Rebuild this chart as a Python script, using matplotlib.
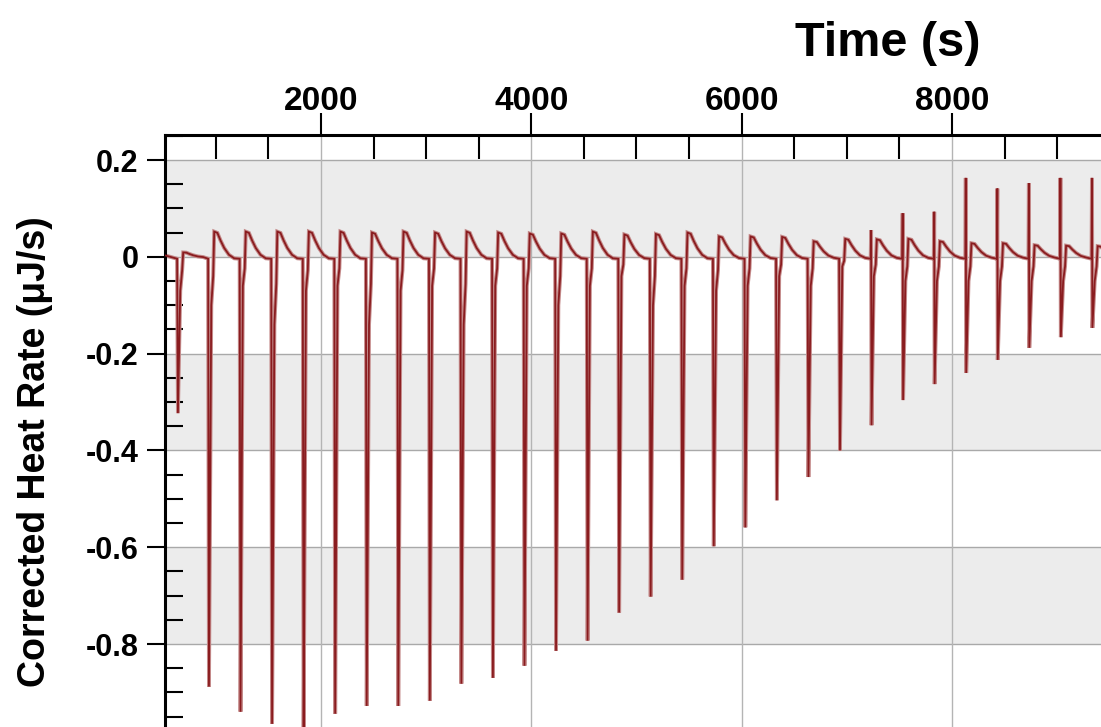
import numpy as np
import matplotlib
matplotlib.use("Agg")
import matplotlib.pyplot as plt
from matplotlib.ticker import MultipleLocator

# injection times (s)
inj_t = [640, 935, 1235, 1535, 1835, 2135, 2435, 2735, 3035, 3335,
         3635, 3935, 4235, 4535, 4835, 5135, 5435, 5735, 6035, 6335,
         6635, 6935, 7235, 7535, 7835, 8135, 8435, 8735, 9035, 9335]
# deepest point of each injection peak (uJ/s)
inj_min = [-0.323, -0.888, -0.940, -0.965, -0.995, -0.944, -0.928, -0.928, -0.917, -0.882,
           -0.870, -0.845, -0.814, -0.793, -0.735, -0.702, -0.667, -0.598, -0.559, -0.503,
           -0.455, -0.400, -0.348, -0.296, -0.263, -0.240, -0.213, -0.188, -0.166, -0.147]
# level the return stroke reaches before the overshoot bump
inj_ret = [-0.07, -0.10, -0.06, -0.14, -0.07, -0.06, -0.14, -0.07, -0.06, -0.14,
           -0.06, -0.06, -0.10, -0.06, -0.04, -0.10, -0.06, -0.07, -0.06, -0.04,
           -0.06, -0.02, -0.04, -0.05, -0.05, -0.05, -0.05, -0.05, -0.05, -0.05]
# height of the positive bump after each peak
inj_bump = [0.009, 0.052, 0.052, 0.052, 0.052, 0.052, 0.050, 0.052, 0.050, 0.052,
            0.050, 0.048, 0.048, 0.052, 0.046, 0.047, 0.050, 0.042, 0.042, 0.041,
            0.032, 0.037, 0.036, 0.037, 0.032, 0.028, 0.028, 0.024, 0.023, 0.022]
# short positive spike at the start of the late injections
inj_spike = [0, 0, 0, 0, 0, 0, 0, 0, 0, 0,
             0, 0, 0, 0, 0, 0, 0, 0, 0, 0,
             0, 0, 0.055, 0.090, 0.093, 0.163, 0.141, 0.152, 0.163, 0.163]

# shape of the bump after a peak: (seconds after injection, fraction of bump height)
bump_dt = [50, 80, 110, 145, 190, 240]
bump_frac = [1.0, 0.95, 0.65, 0.35, 0.08, -0.06]
baseline = -0.004

xticks = [2000, 4000, 6000, 8000]
xtick_labels = ["2000", "4000", "6000", "8000"]
yticks = [0.2, 0, -0.2, -0.4, -0.6, -0.8]
ytick_labels = ["0.2", "0", "-0.2", "-0.4", "-0.6", "-0.8"]
gray_bands = [(0, 0.2), (-0.4, -0.2), (-0.8, -0.6), (-1.2, -1.0)]

# trace through the points of every injection
t_pts, v_pts = [517], [0.003]
for t0, d, r, b, s in zip(inj_t, inj_min, inj_ret, inj_bump, inj_spike):
    t_pts.append(t0 - 8); v_pts.append(baseline)
    if s > 0:
        t_pts.append(t0 - 4); v_pts.append(s)
    t_pts += [t0, t0 + 22, t0 + 40]
    v_pts += [d, r, r * 0.4]
    for dt, f in zip(bump_dt, bump_frac):
        t_pts.append(t0 + dt); v_pts.append(b * f)
t_pts.append(9800); v_pts.append(baseline)

plt.rcParams["font.family"] = ["Liberation Sans", "DejaVu Sans"]
plt.rcParams["axes.unicode_minus"] = False

W, H = 1101, 727
fig = plt.figure(figsize=(W / 100, H / 100), dpi=100)
fig.patch.set_facecolor("white")

# axes placement from pixel anchors in the reference
px_s, px_u = 0.10517, 484.0
x_left, x_right = 517, 9700
y_top, y_bot = 0.2 + 25 / px_u, -1.1
ax_h = (y_top - y_bot) * px_u / H
ax = fig.add_axes([165 / W, 1 - 135 / H - ax_h, (x_right - x_left) * px_s / W, ax_h])
ax.set_xlim(x_left, x_right)
ax.set_ylim(y_bot, y_top)

for lo, hi in gray_bands:
    ax.axhspan(lo, hi, color="#ececec", zorder=0, lw=0)
for y in yticks:
    ax.axhline(y, color="#a9a9a9", lw=1.0, zorder=1)
for x in xticks:
    ax.axvline(x, color="#b4b4b4", lw=1.0, zorder=1)

ax.plot(t_pts, v_pts, color="#c48a8a", lw=2.8, zorder=2, solid_joinstyle="miter")
ax.plot(t_pts, v_pts, color="#8a1c1f", lw=1.3, zorder=3, solid_joinstyle="miter")

ax.xaxis.tick_top()
ax.set_xticks(xticks)
ax.set_xticklabels(xtick_labels, fontweight="bold", fontsize=24)
ax.xaxis.set_minor_locator(MultipleLocator(500))
ax.tick_params(axis="x", which="major", direction="out", length=16, width=1.5,
               pad=-3, top=True, bottom=False)
ax.tick_params(axis="x", which="minor", direction="in", length=17, width=1.5,
               top=True, bottom=False)

ax.set_yticks(yticks)
ax.set_yticklabels(ytick_labels, fontweight="bold", fontsize=22)
ax.yaxis.set_minor_locator(MultipleLocator(0.05))
ax.tick_params(axis="y", which="major", direction="out", length=13, width=1.5, pad=6)
ax.tick_params(axis="y", which="minor", direction="in", length=13, width=1.5)

for side in ["top", "left"]:
    ax.spines[side].set_linewidth(2.2)
ax.spines["bottom"].set_visible(False)
ax.spines["right"].set_visible(False)

fig.text(888 / W, 1 - 43 / H, "Time (s)", fontweight="bold",
         fontsize=35, ha="center", va="center")
fig.text(35 / W, 1 - 452 / H, "Corrected Heat Rate (\u03bcJ/s)", fontweight="bold",
         fontsize=27, rotation=90, ha="center", va="center")

fig.savefig("out.png", dpi=100)
